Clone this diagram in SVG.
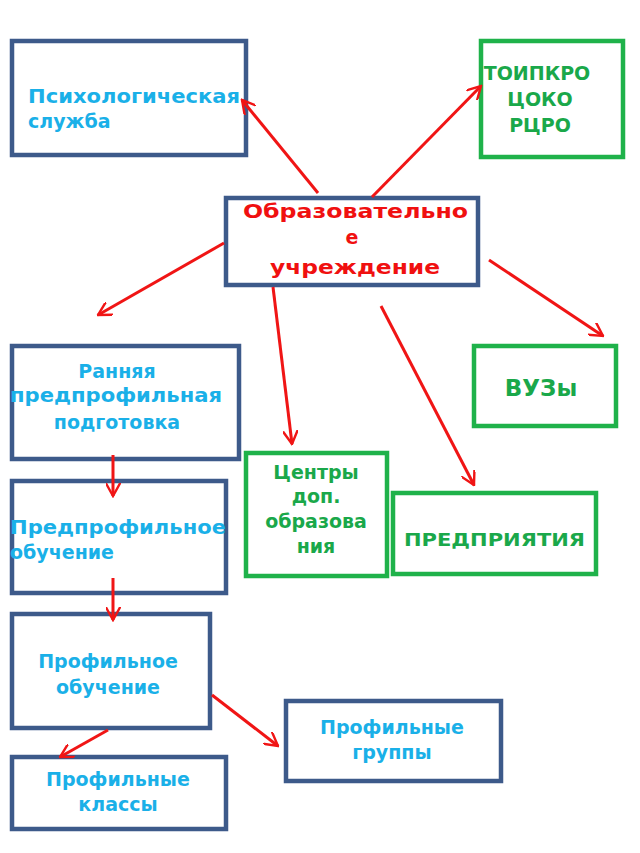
<svg xmlns="http://www.w3.org/2000/svg" width="640" height="853" viewBox="0 0 640 853">
<style>
.b{fill:#fff;stroke:#3d5a8a;stroke-width:4.5}
.g{fill:#fff;stroke:#1fb24a;stroke-width:4.5}
text{font-family:"DejaVu Sans","Liberation Sans",sans-serif;font-weight:bold;font-size:19px}
.c{fill:#1ab0e8}
.gt{fill:#1aa84a}
.r{fill:#f01010}
.m{text-anchor:middle}
.a{stroke:#f01515;stroke-width:3;fill:none;marker-end:url(#ah)}
</style>
<defs><marker id="ah" viewBox="0 0 10 10" refX="9" refY="5" markerWidth="5" markerHeight="5" orient="auto" markerUnits="strokeWidth"><path d="M0,0 L9,5 L0,10" fill="none" stroke="#f01515" stroke-width="1.6"/></marker></defs>
<rect width="640" height="853" fill="#fff"/>
<g id="psy"><rect class="b" x="12" y="41" width="234" height="114"/><text class="c" x="28" y="103" textLength="212" lengthAdjust="spacingAndGlyphs">Психологическая</text><text class="c" x="28" y="128">служба</text></g>
<g id="toi"><rect class="g" x="481" y="41" width="142" height="116"/><text class="gt m" x="537" y="80">ТОИПКРО</text><text class="gt m" x="540" y="106">ЦОКО</text><text class="gt m" x="540" y="132">РЦРО</text></g>
<g id="ou"><rect class="b" x="226" y="198" width="252" height="87"/><text class="r" x="243" y="218" textLength="225" lengthAdjust="spacingAndGlyphs">Образовательно</text><text class="r m" x="352" y="244">е</text><text class="r m" x="355" y="274" textLength="170" lengthAdjust="spacingAndGlyphs">учреждение</text></g>
<g id="rp"><rect class="b" x="12" y="346" width="227" height="113"/><text class="c m" x="117" y="378">Ранняя</text><text class="c" x="10" y="402" textLength="212" lengthAdjust="spacingAndGlyphs">предпрофильная</text><text class="c m" x="117" y="429">подготовка</text></g>
<g id="vuz"><rect class="g" x="474" y="346" width="142" height="80"/><text class="gt m" x="541" y="396" style="font-size:23px">ВУЗы</text></g>
<g id="cdo"><rect class="g" x="246" y="453" width="141" height="123"/><text class="gt m" x="316" y="479">Центры</text><text class="gt m" x="316" y="503">доп.</text><text class="gt m" x="316" y="528">образова</text><text class="gt m" x="316" y="553">ния</text></g>
<g id="pred"><rect class="g" x="393" y="493" width="203" height="81"/><text class="gt" x="404" y="546" style="font-size:18px" textLength="181" lengthAdjust="spacingAndGlyphs">ПРЕДПРИЯТИЯ</text></g>
<g id="ppo"><rect class="b" x="12" y="481" width="214" height="112"/><text class="c" x="10" y="534" textLength="216" lengthAdjust="spacingAndGlyphs">Предпрофильное</text><text class="c" x="10" y="559">обучение</text></g>
<g id="po"><rect class="b" x="12" y="614" width="198" height="114"/><text class="c m" x="108" y="668">Профильное</text><text class="c m" x="108" y="694">обучение</text></g>
<g id="pg"><rect class="b" x="286" y="701" width="215" height="80"/><text class="c m" x="392" y="734">Профильные</text><text class="c m" x="392" y="759">группы</text></g>
<g id="pk"><rect class="b" x="12" y="757" width="214" height="72"/><text class="c m" x="118" y="786">Профильные</text><text class="c m" x="118" y="811">классы</text></g>
<g id="connectors">
<line class="a" x1="318" y1="193" x2="242" y2="100"/>
<line class="a" x1="372" y1="197" x2="481" y2="86"/>
<line class="a" x1="224" y1="243" x2="98" y2="315"/>
<line class="a" x1="489" y1="260" x2="603" y2="336"/>
<line class="a" x1="273" y1="287" x2="292" y2="444"/>
<line class="a" x1="381" y1="306" x2="474" y2="485"/>
<line class="a" x1="113" y1="455" x2="113" y2="496"/>
<line class="a" x1="113" y1="578" x2="113" y2="620"/>
<line class="a" x1="212" y1="695" x2="278" y2="746"/>
<line class="a" x1="108" y1="730" x2="60" y2="757"/>
</g>
</svg>
